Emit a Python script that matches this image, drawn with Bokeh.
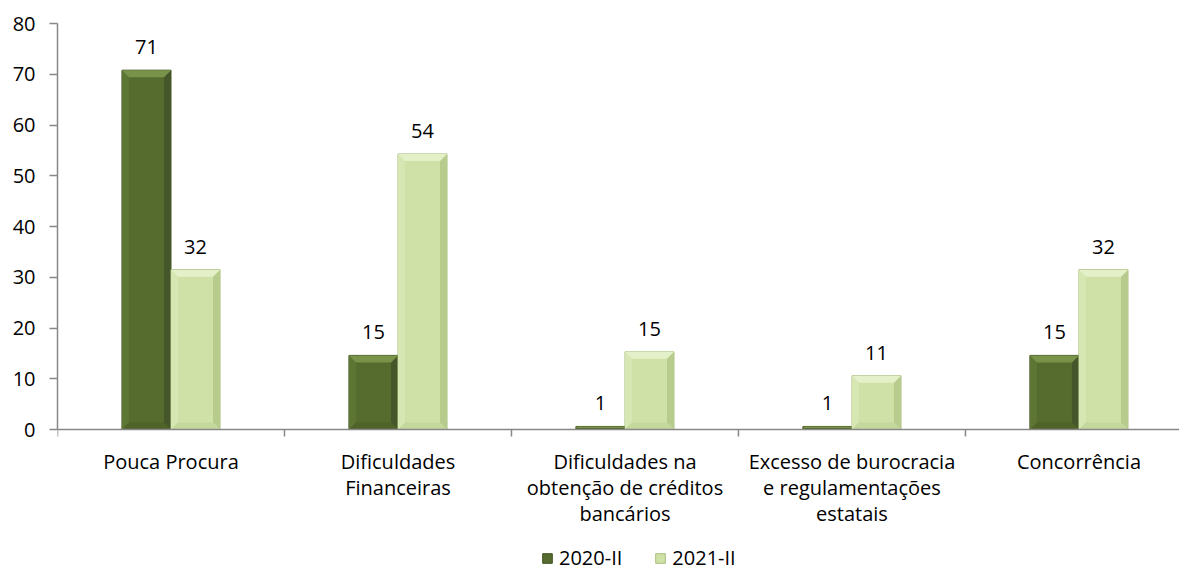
from bokeh.plotting import figure
from bokeh.models import ColumnDataSource, Range1d, FixedTicker, Legend, LegendItem, Span
from bokeh.core.properties import value
from bokeh.embed import file_html
from bokeh.resources import INLINE

categories = ["Pouca Procura", "Dificuldades\nFinanceiras",
              "Dificuldades na\nobtenção de créditos\nbancários",
              "Excesso de burocracia\ne regulamentações\nestatais", "Concorrência"]
series_names = ["2020-II", "2021-II"]
values_2020 = [70.8, 14.6, 0.6, 0.6, 14.6]
values_2021 = [31.5, 54.3, 15.3, 10.6, 31.5]
y_ticks = [0, 10, 20, 30, 40, 50, 60, 70, 80]

FONT = "Open Sans"
FS = "20px"
# main, top bevel, left bevel, right bevel, bottom bevel, outline
dark_cols = ["#566B2E", "#7A934A", "#5E7634", "#45572A", "#4F6329", "#3F5020"]
light_cols = ["#CFE1A6", "#E4F0C8", "#D7E7B3", "#B7CB8C", "#C4D79C", "#A9BE7E"]
AXIS_COLOR = "#888888"

n = len(categories)
centers = [i + 0.5 for i in range(n)]
bw = 0.216
off = 0.108
FRAME_W, FRAME_H = 1122, 550
XMAX, YMAX = 4.943, 80
PX_PER_Y = 406 / YMAX            # 0..80 spans 406 px
YMIN = -144 / PX_PER_Y           # room below the axis for labels and legend
dx = 7 * XMAX / FRAME_W          # bevel depth (7 px) in data units
dy = 7 / PX_PER_Y
tick_len = 7 / PX_PER_Y

p = figure(frame_width=FRAME_W, frame_height=FRAME_H, output_backend="svg", toolbar_location=None,
           x_range=Range1d(0, XMAX), y_range=Range1d(YMIN, YMAX), x_axis_location=None,
           min_border_left=57, min_border_right=0, min_border_top=23, min_border_bottom=0)
p.outline_line_color = None
p.grid.grid_line_color = None
p.background_fill_color = "white"

renderers = []
for vals, sign, cols in [(values_2020, -1, dark_cols), (values_2021, 1, light_cols)]:
    xs = [c + sign * off for c in centers]
    src = ColumnDataSource(dict(x=xs, top=vals, label=[f"{v:.0f}" for v in vals]))
    r = p.vbar(x="x", top="top", bottom=0, width=bw, source=src, fill_color=cols[0],
               line_color=cols[5], line_width=1)
    # bevel facets computed from each bar's position and value
    tx, ty, lx, ly, rx, ry, bx, by = [], [], [], [], [], [], [], []
    for x, v in zip(xs, vals):
        x0, x1 = x - bw / 2, x + bw / 2
        d_y = min(dy, v / 2)
        d_x = dx * (d_y / dy)
        tx.append([x0, x1, x1 - d_x, x0 + d_x]); ty.append([v, v, v - d_y, v - d_y])
        bx.append([x0, x1, x1 - d_x, x0 + d_x]); by.append([0, 0, d_y, d_y])
        lx.append([x0, x0 + d_x, x0 + d_x, x0]); ly.append([0, d_y, v - d_y, v])
        rx.append([x1, x1 - d_x, x1 - d_x, x1]); ry.append([0, d_y, v - d_y, v])
    p.patches(lx, ly, fill_color=cols[2], line_color=None)
    p.patches(rx, ry, fill_color=cols[3], line_color=None)
    p.patches(bx, by, fill_color=cols[4], line_color=None)
    p.patches(tx, ty, fill_color=cols[1], line_color=None)
    p.text(x="x", y="top", text="label", source=src, text_align="center", text_baseline="bottom",
           y_offset=-16, text_font=value(FONT), text_font_size=FS, text_color="#000000")
    renderers.append(r)

# category axis: line at 0, ticks at category boundaries, multi-line labels
p.add_layout(Span(location=0, dimension="width", line_color=AXIS_COLOR, line_width=1.5))
bounds = list(range(n + 1))
p.segment(x0=bounds, y0=[0] * len(bounds), x1=bounds, y1=[-tick_len] * len(bounds),
          line_color=AXIS_COLOR, line_width=1.5)
cat_src = ColumnDataSource(dict(x=centers, y=[0] * n, text=categories))
p.text(x="x", y="y", text="text", source=cat_src, text_align="center", text_baseline="top",
       y_offset=18, text_line_height=0.97, text_font=value(FONT), text_font_size=FS,
       text_color="#000000")

# y axis
p.yaxis.ticker = FixedTicker(ticks=y_ticks)
p.yaxis.bounds = (0, YMAX)
p.yaxis.axis_line_color = AXIS_COLOR
p.yaxis.axis_line_width = 1.5
p.yaxis.major_tick_line_color = AXIS_COLOR
p.yaxis.major_tick_line_width = 1.5
p.yaxis.major_tick_out = 8
p.yaxis.major_tick_in = 0
p.yaxis.minor_tick_line_color = None
p.yaxis.major_label_text_font = FONT
p.yaxis.major_label_text_font_size = FS
p.yaxis.major_label_text_color = "#000000"
p.yaxis.major_label_standoff = 14

legend = Legend(items=[LegendItem(label=series_names[0], renderers=[renderers[0]]),
                       LegendItem(label=series_names[1], renderers=[renderers[1]])],
                orientation="horizontal", location=(484, 2),
                label_text_font=FONT, label_text_font_size=FS, label_text_color="#000000",
                glyph_width=12, glyph_height=12, spacing=32, label_standoff=6,
                border_line_color=None, background_fill_alpha=0, margin=0, padding=0)
p.add_layout(legend, "center")

open("out.html", "w").write(file_html(p, INLINE))
